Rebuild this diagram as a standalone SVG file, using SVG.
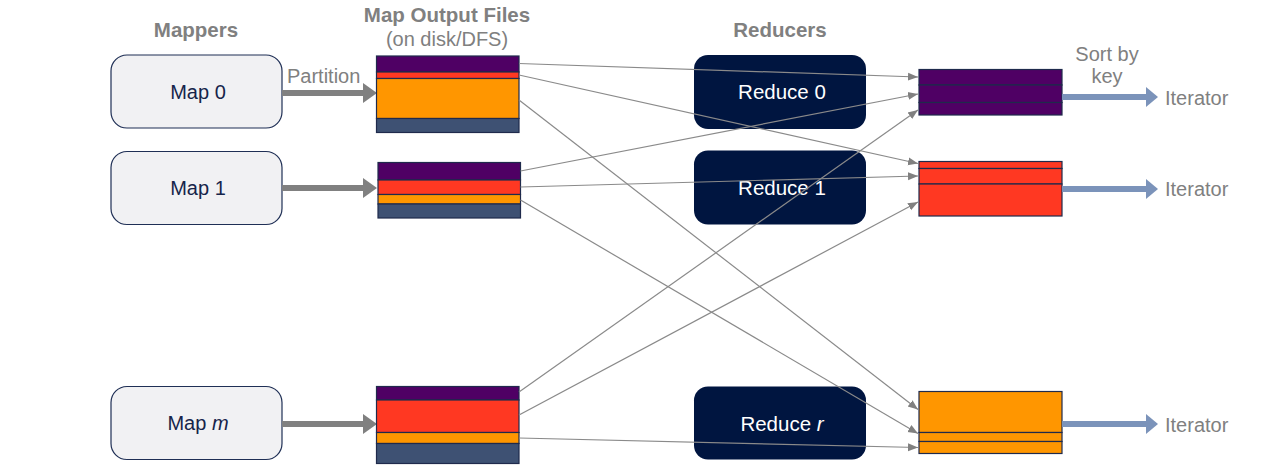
<svg xmlns="http://www.w3.org/2000/svg" width="1288" height="472" viewBox="0 0 1288 472">
  <defs>
    <marker id="tip" viewBox="0 0 10 10" refX="10" refY="5" markerWidth="10" markerHeight="10" markerUnits="userSpaceOnUse" orient="auto">
      <path d="M0,1 L10,5 L0,9 Z" fill="#808080"/>
    </marker>
    <style>
      text { font-family: "Liberation Sans", Arial, sans-serif; }
      .head { font-size: 20.5px; font-weight: bold; fill: #808080; text-anchor: middle; }
      .note { font-size: 20px; fill: #808080; }
      .map rect { fill: #f1f1f3; stroke: #1f2f55; stroke-width: 1.2; }
      .map text { font-size: 20px; fill: #16244a; text-anchor: middle; }
      .red rect { fill: #001540; }
      .red text { font-size: 20.5px; fill: #ffffff; text-anchor: middle; }
      .seg { stroke: #1f2a4c; stroke-width: 1.2; }
      .pu { fill: #4f0064; }
      .rd { fill: #ff3822; }
      .or { fill: #ff9600; }
      .sl { fill: #3e5173; }
      .conn line { stroke: #8a8a8a; stroke-width: 1.2; marker-end: url(#tip); }
      .fat { stroke: #808080; stroke-width: 6; }
      .fathead { fill: #808080; }
      .it { stroke: #7b93ba; stroke-width: 6; }
      .ithead { fill: #7b93ba; }
    </style>
  </defs>

  <rect width="1288" height="472" fill="#ffffff"/>

  <!-- column headings -->
  <text class="head" x="196" y="37">Mappers</text>
  <text class="head" x="447" y="22">Map Output Files</text>
  <text class="note" x="447" y="46" text-anchor="middle">(on disk/DFS)</text>
  <text class="head" x="780" y="37">Reducers</text>
  <text class="note" x="1107" y="61" text-anchor="middle" font-size="20.5">Sort by</text>
  <text class="note" x="1107" y="83" text-anchor="middle" font-size="20.5">key</text>
  <text class="note" x="287" y="83">Partition</text>

  <!-- mappers -->
  <g id="map0" class="map">
    <rect x="111" y="55" width="171" height="73" rx="16"/>
    <text x="198" y="98.5">Map 0</text>
  </g>
  <g id="map1" class="map">
    <rect x="111" y="151.5" width="171" height="73" rx="16"/>
    <text x="198" y="195">Map 1</text>
  </g>
  <g id="mapm" class="map">
    <rect x="111" y="386.5" width="171" height="73" rx="16"/>
    <text x="198" y="430">Map <tspan font-style="italic">m</tspan></text>
  </g>

  <!-- partition arrows -->
  <g id="partition">
    <line class="fat" x1="282" y1="93" x2="364" y2="93"/>
    <path class="fathead" d="M363,83 L377,93 L363,103 Z"/>
    <line class="fat" x1="282" y1="188" x2="364" y2="188"/>
    <path class="fathead" d="M363,178 L377,188 L363,198 Z"/>
    <line class="fat" x1="282" y1="424" x2="364" y2="424"/>
    <path class="fathead" d="M363,414 L377,424 L363,434 Z"/>
  </g>

  <!-- map output files -->
  <g id="out0">
    <rect class="pu seg" x="376.5" y="56" width="142.5" height="16"/>
    <rect class="rd seg" x="376.5" y="72" width="142.5" height="6.5"/>
    <rect class="or seg" x="376.5" y="78.5" width="142.5" height="40"/>
    <rect class="sl seg" x="376.5" y="118.5" width="142.5" height="14"/>
  </g>
  <g id="out1">
    <rect class="pu seg" x="378" y="162.5" width="142.5" height="17.5"/>
    <rect class="rd seg" x="378" y="180" width="142.5" height="14.5"/>
    <rect class="or seg" x="378" y="194.5" width="142.5" height="9.5"/>
    <rect class="sl seg" x="378" y="204" width="142.5" height="14"/>
  </g>
  <g id="outm">
    <rect class="pu seg" x="376.5" y="386.5" width="142.5" height="13.5"/>
    <rect class="rd seg" x="376.5" y="400" width="142.5" height="32.5"/>
    <rect class="or seg" x="376.5" y="432.5" width="142.5" height="11"/>
    <rect class="sl seg" x="376.5" y="443.5" width="142.5" height="20"/>
  </g>

  <!-- reducers -->
  <g id="reduce0" class="red">
    <rect x="694" y="55" width="172" height="74" rx="14"/>
    <text x="782" y="98.5">Reduce 0</text>
  </g>
  <g id="reduce1" class="red">
    <rect x="694" y="150.5" width="172" height="74" rx="14"/>
    <text x="782" y="194.5">Reduce 1</text>
  </g>
  <g id="reducer" class="red">
    <rect x="694" y="386.5" width="172" height="73" rx="14"/>
    <text x="782" y="430.5">Reduce <tspan font-style="italic">r</tspan></text>
  </g>

  <!-- sorted partitions -->
  <g id="part0">
    <rect class="pu seg" x="919" y="69.5" width="143" height="15.5"/>
    <rect class="pu seg" x="919" y="85" width="143" height="17.5"/>
    <rect class="pu seg" x="919" y="102.5" width="143" height="12.5"/>
  </g>
  <g id="part1">
    <rect class="rd seg" x="919" y="161.5" width="143" height="7"/>
    <rect class="rd seg" x="919" y="168.5" width="143" height="15.5"/>
    <rect class="rd seg" x="919" y="184" width="143" height="32"/>
  </g>
  <g id="partr">
    <rect class="or seg" x="919" y="391.5" width="143" height="41"/>
    <rect class="or seg" x="919" y="432.5" width="143" height="9"/>
    <rect class="or seg" x="919" y="441.5" width="143" height="12"/>
  </g>

  <!-- iterator outputs -->
  <g id="iterators">
    <line class="it" x1="1062" y1="97" x2="1147" y2="97"/>
    <path class="ithead" d="M1146,87 L1158,97 L1146,107 Z"/>
    <text class="note" x="1165" y="105" font-size="21">Iterator</text>
    <line class="it" x1="1062" y1="189" x2="1147" y2="189"/>
    <path class="ithead" d="M1146,179 L1158,189 L1146,199 Z"/>
    <text class="note" x="1165" y="196" font-size="21">Iterator</text>
    <line class="it" x1="1062" y1="424" x2="1147" y2="424"/>
    <path class="ithead" d="M1146,414 L1158,424 L1146,434 Z"/>
    <text class="note" x="1165" y="431.5" font-size="21">Iterator</text>
  </g>

  <!-- shuffle connectors -->
  <g id="connectors" class="conn">
    <line x1="519" y1="63.5" x2="918" y2="77"/>
    <line x1="519" y1="75" x2="918" y2="163.5"/>
    <line x1="519" y1="100" x2="918" y2="409.5"/>
    <line x1="520.5" y1="171" x2="918" y2="94"/>
    <line x1="520.5" y1="187" x2="918" y2="176"/>
    <line x1="520.5" y1="200" x2="918" y2="433.5"/>
    <line x1="519" y1="392" x2="918" y2="110"/>
    <line x1="519" y1="415" x2="918" y2="202"/>
    <line x1="519" y1="438" x2="918" y2="447.5"/>
  </g>
</svg>
